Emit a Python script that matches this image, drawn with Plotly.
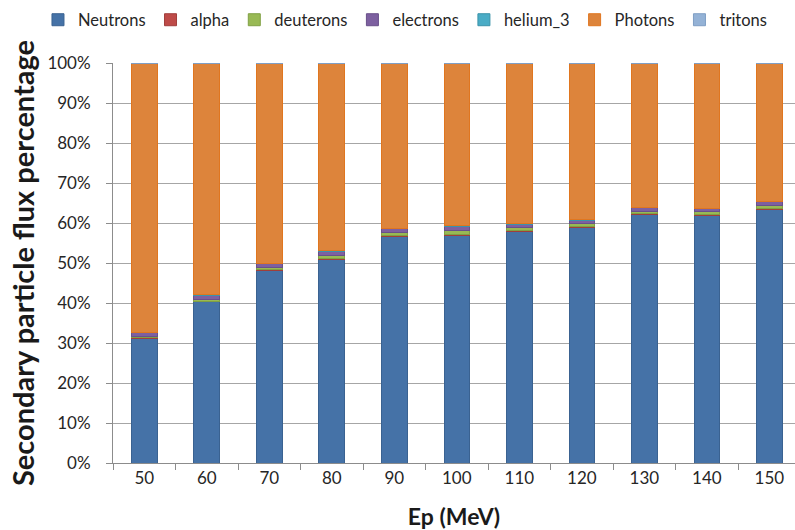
import plotly.graph_objects as go

# Proton energy categories (MeV)
energies = ["50", "60", "70", "80", "90", "100", "110", "120", "130", "140", "150"]

# Share of secondary particle flux per species, in percent
neutrons = [31.1, 40.3, 48.1, 51.0, 56.6, 57.0, 57.8, 58.9, 62.2, 61.9, 63.3]
alpha = [0.2, 0.2, 0.25, 0.25, 0.25, 0.25, 0.25, 0.25, 0.2, 0.3, 0.35]
deuterons = [0.3, 0.5, 0.6, 0.75, 0.8, 1.0, 0.9, 0.8, 0.6, 0.7, 0.8]
electrons = [1.0, 1.0, 1.0, 1.0, 1.0, 1.0, 0.8, 0.8, 0.8, 0.8, 1.0]
helium_3 = [0.03, 0.03, 0.03, 0.03, 0.03, 0.03, 0.03, 0.03, 0.03, 0.03, 0.03]
photons = [67.17, 57.77, 49.97, 46.77, 41.27, 40.67, 40.17, 39.17, 36.12, 36.22, 34.47]
tritons = [0.2, 0.2, 0.05, 0.2, 0.05, 0.05, 0.05, 0.05, 0.05, 0.05, 0.05]

y_ticks = [0, 10, 20, 30, 40, 50, 60, 70, 80, 90, 100]
y_tick_text = [f"{v}%" for v in y_ticks]

series = [
    ("Neutrons", neutrons, "#4572A7", "#3A6291"),
    ("alpha", alpha, "#BE4B48", "#A03E3B"),
    ("deuterons", deuterons, "#98B954", "#80A044"),
    ("electrons", electrons, "#7D60A0", "#69508A"),
    ("helium_3", helium_3, "#4AACC6", "#3B93AA"),
    ("Photons", photons, "#DD843B", "#E0761F"),
    ("tritons", tritons, "#94B2D6", "#7F9EC4"),
]

font_family = "Lato, 'Open Sans', sans-serif"

fig = go.Figure()
for name, vals, fill, edge in series:
    fig.add_trace(go.Bar(
        name=name,
        x=energies,
        y=vals,
        width=0.41,
        marker=dict(color=fill, line=dict(color=edge, width=1)),
    ))

fig.update_layout(
    barmode="stack",
    width=795,
    height=530,
    margin=dict(l=113, r=0, t=63, b=67),
    paper_bgcolor="white",
    plot_bgcolor="white",
    font=dict(family=font_family, size=16, color="#262626"),
    # Legend sits left of and above the plot area so it may span the full width
    legend=dict(
        orientation="h",
        x=-0.11, xanchor="left",
        y=1.1075, yanchor="middle",
        traceorder="normal",
        font=dict(size=16.5, color="#262626"),
        itemwidth=30,
        bgcolor="rgba(0,0,0,0)",
    ),
    showlegend=True,
)

fig.update_xaxes(
    type="category",
    range=[-0.5, 10.41],
    showgrid=False,
    showline=True,
    linecolor="#8C8C8C",
    linewidth=1,
    ticks="outside",
    tickson="boundaries",
    ticklen=6,
    tickcolor="#8C8C8C",
    tickfont=dict(size=17),
    title=dict(text="<b>Ep (MeV)</b>", font=dict(size=23, color="#1a1a1a"), standoff=26),
    automargin=False,
)

fig.update_yaxes(
    range=[0, 100],
    tickvals=y_ticks,
    ticktext=y_tick_text,
    showgrid=True,
    gridcolor="#A6A6A6",
    gridwidth=1,
    showline=True,
    linecolor="#8C8C8C",
    linewidth=1,
    ticks="outside",
    ticklen=6,
    tickcolor="#8C8C8C",
    tickfont=dict(size=17),
    ticklabelstandoff=12,
    title=dict(text="<b>Secondary particle flux percentage</b>",
               font=dict(size=29, color="#1a1a1a"), standoff=4),
    automargin=False,
    zeroline=False,
)

fig.write_html("out.html")
